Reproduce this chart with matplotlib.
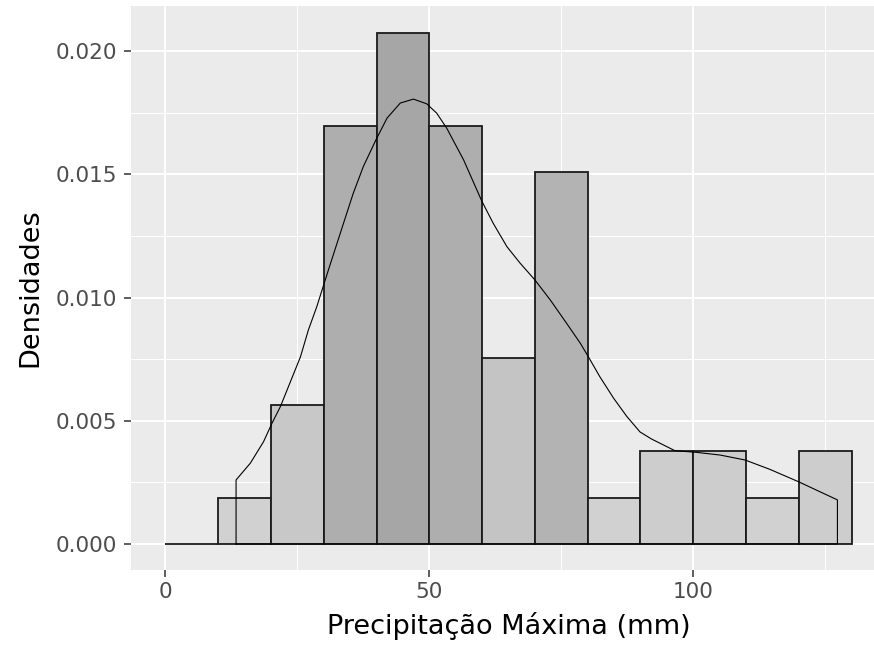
import numpy as np
import matplotlib
matplotlib.use('Agg')
import matplotlib.pyplot as plt
from matplotlib import colors as mcolors
from matplotlib.ticker import MultipleLocator

plt.rcParams['font.family'] = 'DejaVu Sans'

# histogram: 10 mm bins, counts
bin_edges = [0, 10, 20, 30, 40, 50, 60, 70, 80, 90, 100, 110, 120, 130]
counts = [0, 1, 3, 9, 11, 9, 4, 8, 1, 2, 2, 1, 2]

# density curve (geom_density outline)
dens_x = [13.4, 16.1, 18.6, 20.2, 21.8, 23.7, 25.6, 27.1, 28.7, 30.1, 31.2,
          33.75, 35.6, 37.5, 39.9, 42.0, 44.5, 47.0, 49.5, 51.4, 53.3, 56.5,
          59.9, 62.1, 64.7, 67.2, 70.0, 72.9, 76.0, 78.6, 80.1, 82.3, 84.9,
          87.4, 89.9, 92.1, 96.5, 100.6, 105.1, 109.8, 114.5, 119.9, 127.3]
dens_y = [0.0026, 0.00328, 0.00415, 0.0049, 0.00558, 0.00659, 0.0076,
          0.00869, 0.00964, 0.01059, 0.01133, 0.01302, 0.01424, 0.01532,
          0.01641, 0.01729, 0.0179, 0.01806, 0.01787, 0.01749, 0.01688,
          0.01559, 0.01394, 0.01302, 0.01207, 0.0114, 0.01072, 0.00991,
          0.00896, 0.00815, 0.00761, 0.00679, 0.00592, 0.00518, 0.00455,
          0.00426, 0.00379, 0.00372, 0.00361, 0.00341, 0.00303, 0.00253,
          0.00179]

n_obs = sum(counts)
width = bin_edges[1] - bin_edges[0]
density = np.array(counts) / (n_obs * width)

# fill mapped to count, light -> dark grey
cmap = mcolors.LinearSegmentedColormap.from_list('greys', ['#D5D5D5', '#A6A6A6'])
norm = mcolors.Normalize(vmin=0, vmax=max(counts))
fills = [cmap(norm(c)) for c in counts]

W, H = 874, 655
fig = plt.figure(figsize=(W / 100, H / 100), dpi=100)
# panel runs a bit past the right border, as in the reference
ax = fig.add_axes([131 / W, 1 - 569.6 / H, 755 / W, 563.6 / H])
ax.set_facecolor('#EBEBEB')

ax.bar(bin_edges[:-1], density, width=width, align='edge', color=fills,
       edgecolor='#1a1a1a', linewidth=1.3, zorder=3)

px = [dens_x[0]] + dens_x + [dens_x[-1], dens_x[0]]
py = [0] + dens_y + [0, 0]
ax.plot(px, py, color='black', linewidth=0.8, zorder=4)

ax.set_xlim(-6.5, 136.5)
ax.set_ylim(-0.00104, 0.02184)
ax.xaxis.set_major_locator(MultipleLocator(50))
ax.xaxis.set_minor_locator(MultipleLocator(25))
ax.yaxis.set_major_locator(MultipleLocator(0.005))
ax.yaxis.set_minor_locator(MultipleLocator(0.0025))
ax.yaxis.set_major_formatter(plt.FuncFormatter(lambda v, p: f'{v:.3f}'))

ax.grid(which='major', color='white', linewidth=1.5, zorder=0)
ax.grid(which='minor', color='white', linewidth=0.75, zorder=0)
ax.set_axisbelow(True)
for s in ax.spines.values():
    s.set_visible(False)

ax.tick_params(which='major', length=4.9, width=1.1, color='#333333',
               labelcolor='#4D4D4D', labelsize=15.5, pad=4)
ax.tick_params(axis='y', pad=5)
ax.tick_params(which='minor', length=0)

ax.set_xlabel('Precipitação Máxima (mm)', fontsize=19.5, color='black', labelpad=7)
ax.set_ylabel('Densidades', fontsize=19.5, color='black', labelpad=9)

fig.savefig('out.png', dpi=100)
